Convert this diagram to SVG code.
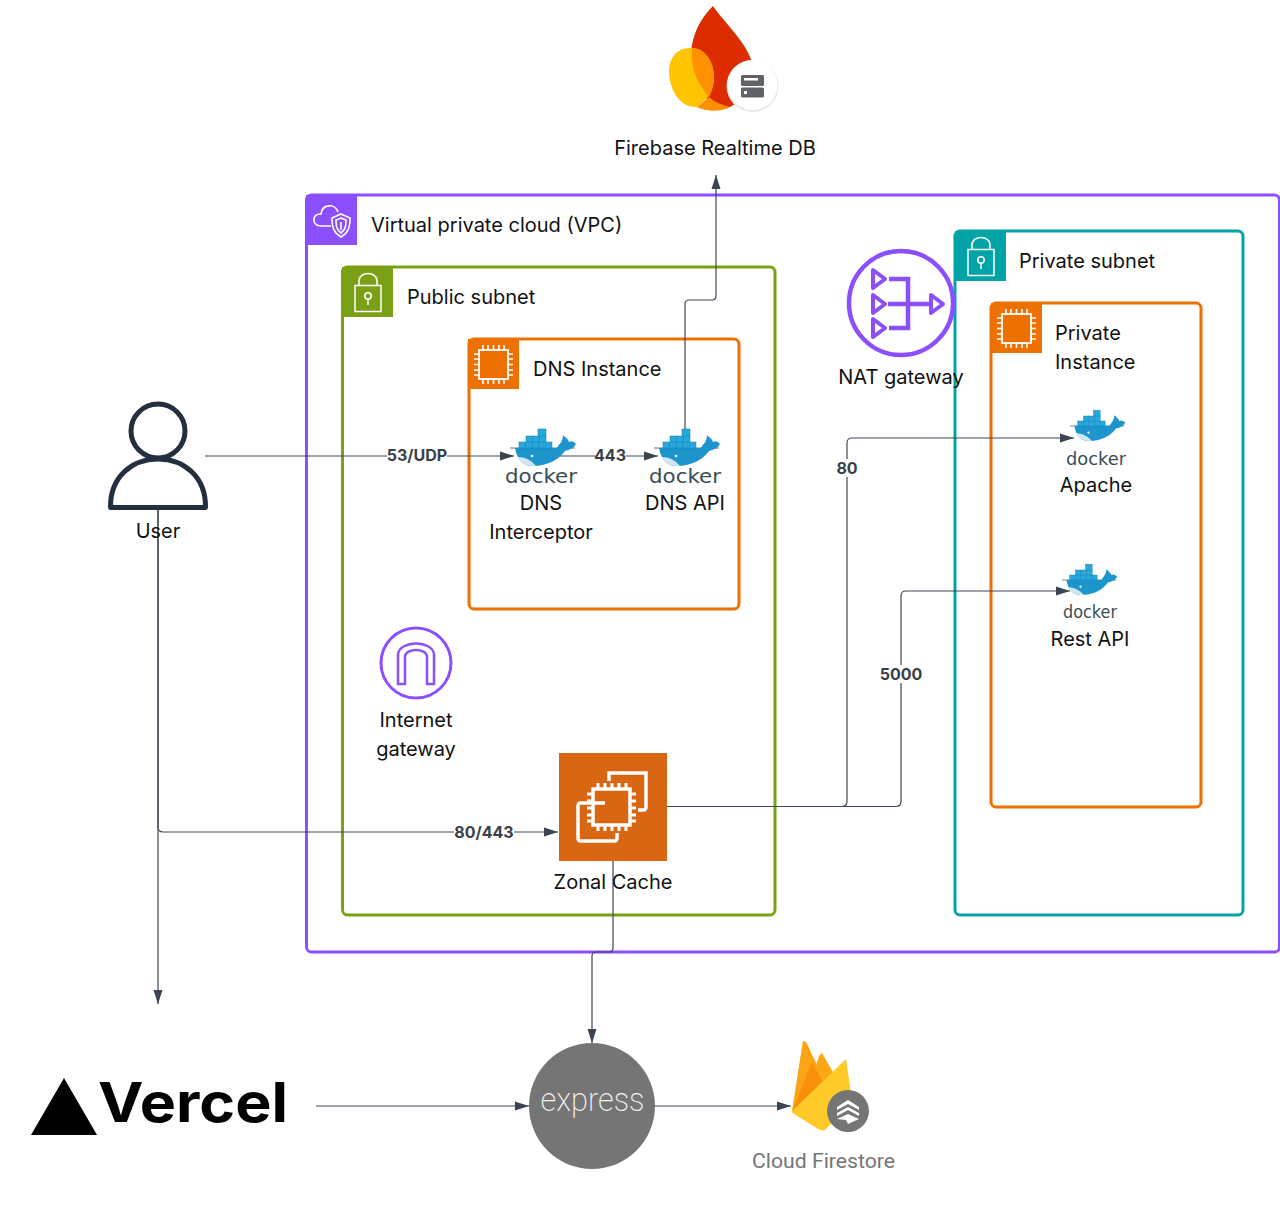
<svg xmlns="http://www.w3.org/2000/svg" width="1280" height="1224" viewBox="0 0 1280 1224">
<style>
text{font-family:Inter,"Liberation Sans",sans-serif;font-size:20px;fill:#111}
.m{text-anchor:middle}
.box{fill:none;stroke-width:3}
.conn{fill:none;stroke:#3f4856;stroke-width:1.2}
.lab{font-size:16px;font-weight:700;fill:#3a3f47;text-anchor:middle}
.lb{fill:#fff}
.dk{font-family:"DejaVu Sans","Liberation Sans",sans-serif;fill:#394d54;text-anchor:middle}
.ic{fill:none;stroke:#fff;stroke-width:1.6}
.pp{fill:none;stroke:#8c4fff}
</style>
<defs>
<marker id="a" markerWidth="15" markerHeight="10" refX="14" refY="5" orient="auto" markerUnits="userSpaceOnUse"><path d="M0 0.500L14 5L0 9.500z" fill="#3a4452"/></marker>
<symbol id="whale" overflow="visible" viewBox="0 0 72 38" width="72" height="38">
<path d="M5 19H70" stroke="#444f55" stroke-width="0.800"/>
<path d="M10 19H52C54 15 58 13 58 6C61 9 63 10 64 13C67 11 70 14 71 15C68 20 63 21 60 22C54 30 44 37 27 37C18 37 12 30 10 19z" fill="#1c94cc"/>
<path d="M13 28C20 28 26 31 31 37H26C19 36 15 33 13 28z" fill="#cfe8f2"/>
<g fill="#27a9dd" stroke="#147fb0" stroke-width="0.500"><rect x="33" y="0" width="8" height="7.500"/><rect x="21" y="7" width="6.700" height="6.500"/><rect x="27.700" y="7" width="6.700" height="6.500"/><rect x="34.300" y="7" width="6.700" height="6.500"/><rect x="14" y="13" width="6.600" height="6"/><rect x="20.600" y="13" width="6.600" height="6"/><rect x="27.200" y="13" width="6.600" height="6"/><rect x="33.800" y="13" width="6.600" height="6"/><rect x="40.400" y="13" width="6.600" height="6"/></g>
<circle cx="27" cy="27" r="1.300" fill="#fff"/>
</symbol>
<symbol id="chip" overflow="visible" viewBox="0 0 51 51" width="51" height="51">
<rect x="11" y="11" width="29" height="29" fill="none" stroke="#fff" stroke-width="1.800"/>
<path d="M15 11V6M20 11V6M25.500 11V6M31 11V6M36 11V6M15 40V45M20 40V45M25.500 40V45M31 40V45M36 40V45M11 15H6M11 20H6M11 25.500H6M11 31H6M11 36H6M40 15H45M40 20H45M40 25.500H45M40 31H45M40 36H45" stroke="#fff" stroke-width="1.600" fill="none"/>
</symbol>
<symbol id="lock" overflow="visible" viewBox="0 0 51 51" width="51" height="51">
<rect x="13" y="18.500" width="26" height="26" fill="none" stroke="#fff" stroke-width="1.500"/>
<path d="M17 18.500V14C17 4 35 4 35 14V18.500" fill="none" stroke="#fff" stroke-width="1.500"/>
<circle cx="26" cy="29" r="3.200" fill="none" stroke="#fff" stroke-width="1.500"/><path d="M26 32.200V38" stroke="#fff" stroke-width="1.500"/>
</symbol>
</defs>
<rect width="1280" height="1224" fill="#fff"/>

<g id="vpc">
<rect x="306.500" y="195" width="973" height="757" rx="5" class="box" stroke="#8c4fff"/>
<rect x="306" y="195" width="51" height="50" fill="#8c4fff"/>
<path d="M331 226H321C311 226 312 213 321 214C322 204 335 203 338 212" class="ic"/>
<path d="M341 214L350 218C350 228 348 233 341 237C334 233 332 228 332 218z M341 218L346 220C346 227 345 230 341 233C337 230 336 227 336 220z M341 222V230" class="ic"/>
<text x="371" y="232">Virtual private cloud (VPC)</text>
</g>
<g id="public-subnet">
<rect x="342.500" y="267" width="432.500" height="648" rx="5" class="box" stroke="#7aa116"/>
<rect x="342" y="267" width="51" height="50" fill="#7aa116"/>
<use href="#lock" x="342" y="267"/>
<text x="407" y="304">Public subnet</text>
</g>
<g id="private-subnet">
<rect x="955" y="231" width="288" height="684" rx="5" class="box" stroke="#01a4a6"/>
<rect x="955" y="231" width="51" height="50" fill="#01a4a6"/>
<use href="#lock" x="955" y="231"/>
<text x="1019" y="268">Private subnet</text>
</g>
<g id="dns-instance">
<rect x="469" y="339" width="270" height="270" rx="5" class="box" stroke="#ed7100"/>
<rect x="468" y="339" width="51" height="50" fill="#ed7100"/>
<use href="#chip" x="468" y="339"/>
<text x="533" y="376">DNS Instance</text>
</g>
<g id="private-instance">
<rect x="991" y="303" width="210" height="504" rx="5" class="box" stroke="#ed7100"/>
<rect x="991" y="303" width="51" height="50" fill="#ed7100"/>
<use href="#chip" x="991" y="303"/>
<text x="1055" y="340">Private</text>
<text x="1055" y="369">Instance</text>
</g>

<g id="connectors">
<path class="conn" marker-end="url(#a)" d="M205 456H514"/>
<path class="conn" marker-end="url(#a)" d="M560 456H658"/>
<path class="conn" marker-end="url(#a)" d="M685 432V304Q685 300 689 300H712Q716 300 716 296V175"/>
<path class="conn" marker-end="url(#a)" d="M158 510V1004"/>
<path class="conn" marker-end="url(#a)" d="M158 510V827Q158 832 163 832H558"/>
<path class="conn" marker-end="url(#a)" d="M667 806.500H842Q847 806.500 847 801.500V443Q847 438 852 438H1074"/>
<path class="conn" marker-end="url(#a)" d="M667 806.500H896Q901 806.500 901 801.500V596Q901 591 906 591H1070"/>
<path class="conn" marker-end="url(#a)" d="M613 861V948Q613 952 609 952H596Q592 952 592 956V1043"/>
<path class="conn" marker-end="url(#a)" d="M316 1106H529"/>
<path class="conn" marker-end="url(#a)" d="M655 1106H791"/>
<rect class="lb" x="387" y="447" width="60" height="18"/><text class="lab" x="417" y="461">53/UDP</text>
<rect class="lb" x="595" y="447" width="31" height="18"/><text class="lab" x="610" y="461">443</text>
<rect class="lb" x="454" y="823" width="60" height="18"/><text class="lab" x="484" y="838">80/443</text>
<rect class="lb" x="836" y="459" width="22" height="18"/><text class="lab" x="847" y="474">80</text>
<rect class="lb" x="880" y="665" width="42" height="18"/><text class="lab" x="901" y="680">5000</text>
</g>

<g id="firebase-db">
<path d="M713 6C724 22 746 42 752 62C755 78 745 100 730 107C716 108 705 100 698 88C690 72 690 55 692 45C695 28 704 15 713 6z" fill="#dd2c00"/>
<path d="M692 48C705 48 714 62 714 77C714 86 711 93 707 98L697 107C680 108 669 90 669 70C670 56 678 47 692 48z" fill="#ffc400"/>
<path d="M692 48C705 48 714 62 714 77C714 86 711 93 709 97C698 85 690 67 692 48z" fill="#ff9100"/>
<path d="M697 107L709 97C714 102 722 105 730 107C722 112 706 112 697 107z" fill="#ff9100"/>
<circle cx="752.500" cy="86" r="26" fill="#e8e8e8"/>
<circle cx="752.500" cy="85" r="25" fill="#fff"/>
<rect x="741" y="75" width="23" height="11" rx="1.500" fill="#5f6368"/>
<rect x="741" y="87.500" width="23" height="10" rx="1.500" fill="#5f6368"/>
<rect x="744" y="78" width="14" height="2.500" fill="#fff"/><rect x="744" y="91" width="3" height="3" fill="#fff"/>
<text class="m" x="715" y="155">Firebase Realtime DB</text>
</g>

<g id="user">
<circle cx="158" cy="431" r="27" fill="#fff" stroke="#232f3e" stroke-width="5"/>
<path d="M110.500 507.500C110 477 132 459 158 459C184 459 206 477 205.500 507.500z" fill="#fff" stroke="#232f3e" stroke-width="5" stroke-linejoin="round"/>
<text class="m" x="158" y="538">User</text>
</g>

<g id="dns-interceptor">
<use href="#whale" x="505" y="429"/>
<text class="dk" x="541" y="483" textLength="72" lengthAdjust="spacingAndGlyphs" style="font-size:20px">docker</text>
<text class="m" x="541" y="510">DNS</text>
<text class="m" x="541" y="539">Interceptor</text>
</g>
<g id="dns-api">
<use href="#whale" x="649" y="429"/>
<text class="dk" x="685" y="483" textLength="72" lengthAdjust="spacingAndGlyphs" style="font-size:20px">docker</text>
<text class="m" x="685" y="510">DNS API</text>
</g>
<g id="apache">
<use href="#whale" x="1066" y="410" width="60" height="32"/>
<text class="dk" x="1096" y="465" textLength="60" lengthAdjust="spacingAndGlyphs" style="font-size:17px">docker</text>
<text class="m" x="1096" y="492">Apache</text>
</g>
<g id="rest-api">
<use href="#whale" x="1058" y="564" width="60" height="32"/>
<text class="dk" x="1090" y="618" textLength="54" lengthAdjust="spacingAndGlyphs" style="font-size:17px">docker</text>
<text class="m" x="1090" y="645.500">Rest API</text>
</g>

<g id="nat-gateway">
<circle cx="901" cy="303" r="52" class="pp" stroke-width="4.500"/>
<path d="M889 279H908V328H889M888 304H932" class="pp" stroke-width="4.500"/>
<g class="pp" stroke-width="4" stroke-linejoin="round">
<path d="M873 270L885 279L873 288z"/><path d="M873 295L885 304L873 313z"/><path d="M873 319L885 328L873 337z"/><path d="M931 295L943 304L931 313z"/>
</g>
<text class="m" x="901" y="384">NAT gateway</text>
</g>

<g id="internet-gateway">
<circle cx="416" cy="663" r="35" class="pp" stroke-width="3"/>
<path d="M398 684V655C398 647 408 643.500 416 643.500C424 643.500 434 647 434 655V684H427V657C427 652 421 650 416 650C411 650 405 652 405 657V684z" class="pp" stroke-width="2.500"/>
<text class="m" x="416" y="727">Internet</text>
<text class="m" x="416" y="756">gateway</text>
</g>

<g id="zonal-cache">
<rect x="559" y="753" width="108" height="108" fill="#d86613"/>
<path d="M609 781V773H646V807Q646 810 643 810H638M605 803H581Q578 803 578 806V838Q578 841 581 841H614Q617 841 617 838V833" fill="none" stroke="#fff" stroke-width="3.500"/>
<rect x="593" y="789" width="37" height="36" fill="none" stroke="#fff" stroke-width="3.500"/>
<path d="M598 789V783M605 789V783M612 789V783M619 789V783M626 789V783M598 825V831M605 825V831M612 825V831M619 825V831M626 825V831M593 794H587M593 801H587M593 808H587M593 815H587M593 821H587M630 794H636M630 801H636M630 808H636M630 815H636M630 821H636" stroke="#fff" stroke-width="3" fill="none"/>
<text class="m" x="613" y="889">Zonal Cache</text>
</g>

<g id="vercel">
<path d="M64 1078L97 1135H31z" fill="#000"/>
<text x="98" y="1121.500" textLength="190" lengthAdjust="spacingAndGlyphs" style="font-size:55px;font-weight:700;fill:#000">Vercel</text>
</g>

<g id="express">
<circle cx="592" cy="1106" r="63" fill="#757575"/>
<text class="m" x="592.500" y="1111" textLength="104" lengthAdjust="spacingAndGlyphs" style="font-family:Roboto,'Liberation Sans',sans-serif;font-size:34px;font-weight:200;fill:#f2f2f2">express</text>
</g>

<g id="cloud-firestore">
<path d="M803 1041C805 1041 806 1042 807 1044L824 1080L792 1112z" fill="#ffa000"/>
<path d="M822 1053L834 1074L826 1094L812 1080L819 1056z" fill="#ffa712"/>
<path d="M803 1041L824 1082L792 1112z" fill="#f9a825" opacity=".6"/>
<path d="M812 1062L824 1084L792 1112z" fill="#f57c00" opacity=".55"/>
<path d="M846 1059L852 1100C852 1104 850 1107 847 1108L825 1130C822 1131 820 1130 818 1129L791 1112z" fill="#ffca28"/>
<circle cx="848" cy="1111" r="21" fill="#757575"/>
<path d="M837 1107L848 1100L859 1107V1110L848 1104L837 1110z M837 1113L848 1107L859 1113V1116L848 1110L837 1116z M837 1119L848 1114L859 1119L848 1124L846 1120z" fill="#fff"/>
<text x="752" y="1168" textLength="143" lengthAdjust="spacingAndGlyphs" style="font-family:Roboto,'Liberation Sans',sans-serif;fill:#757575;font-size:21px">Cloud Firestore</text>
</g>
</svg>
